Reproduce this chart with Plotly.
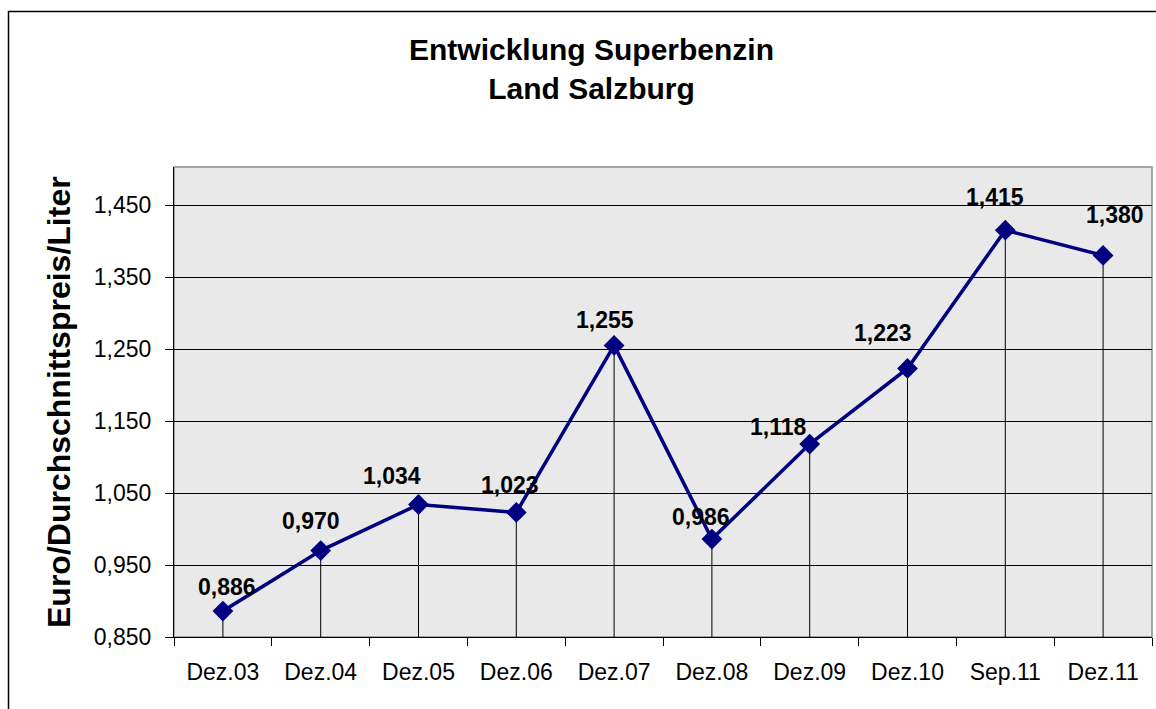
import plotly.graph_objects as go

# ---- data ----
categories = ["Dez.03", "Dez.04", "Dez.05", "Dez.06", "Dez.07",
              "Dez.08", "Dez.09", "Dez.10", "Sep.11", "Dez.11"]
prices = [0.886, 0.970, 1.034, 1.023, 1.255, 0.986, 1.118, 1.223, 1.415, 1.380]
y_ticks = [0.850, 0.950, 1.050, 1.150, 1.250, 1.350, 1.450]

# label placement offsets (pixels) relative to each point
label_dx = [4, -10, -27, -6, -9, -11, -32, -25, -10, 12]
label_dy = [24, 30, 29, 27, 25, 22, 17, 35, 33, 40]

FONT = "Liberation Sans, Arial, sans-serif"
NAVY = "#000080"

def fmt(v):
    return f"{v:.3f}".replace(".", ",")

# plot area geometry (pixels)
W, H = 1156, 709
L, R, T, B = 174, 4, 167, 72
pw, ph = W - L - R, H - T - B

def px_x(p):
    return (p - L) / pw

def px_y(p):
    return (H - B - p) / ph

fig = go.Figure()

# drop lines from each point down to the axis
dx, dy = [], []
for c, v in zip(categories, prices):
    dx += [c, c, None]
    dy += [v, y_ticks[0], None]
fig.add_trace(go.Scatter(x=dx, y=dy, mode="lines",
                         line=dict(color="black", width=1),
                         hoverinfo="skip", showlegend=False))

# main series
fig.add_trace(go.Scatter(x=categories, y=prices, mode="lines+markers",
                         line=dict(color=NAVY, width=3.5),
                         marker=dict(symbol="diamond", size=16, color=NAVY),
                         showlegend=False))

annotations = []
for c, v, ox, oy in zip(categories, prices, label_dx, label_dy):
    annotations.append(dict(x=c, y=v, xref="x", yref="y", text=f"<b>{fmt(v)}</b>",
                            showarrow=False, xshift=ox, yshift=oy,
                            xanchor="center", yanchor="middle",
                            font=dict(family=FONT, size=23, color="black")))

# title
annotations.append(dict(xref="paper", yref="paper", x=px_x(591), y=px_y(69),
                        text="<b>Entwicklung Superbenzin<br>Land Salzburg</b>",
                        showarrow=False, xanchor="center", yanchor="middle",
                        font=dict(family=FONT, size=30, color="black")))
# y-axis title
annotations.append(dict(xref="paper", yref="paper", x=px_x(59), y=0.5,
                        text="<b>Euro/Durchschnittspreis/Liter</b>", textangle=-90,
                        showarrow=False, xanchor="center", yanchor="middle",
                        font=dict(family=FONT, size=32, color="black")))

shapes = [
    # plot-area border (gray top / right)
    dict(type="rect", xref="paper", yref="paper", x0=0, y0=0, x1=1, y1=1,
         line=dict(color="#8c8c8c", width=1.5), layer="below"),
    # outer chart frame
    dict(type="rect", xref="paper", yref="paper",
         x0=px_x(8.5), y0=px_y(720), x1=px_x(1170), y1=px_y(11.5),
         line=dict(color="black", width=1.5), layer="below"),
]

fig.update_layout(
    width=W, height=H,
    margin=dict(l=L, r=R, t=T, b=B, pad=0),
    paper_bgcolor="white",
    plot_bgcolor="#e9e9e9",
    separators=",.",
    font=dict(family=FONT, size=23, color="black"),
    annotations=annotations,
    shapes=shapes,
    xaxis=dict(type="category", range=[-0.5, len(categories) - 0.5],
               tickson="boundaries", ticks="outside", ticklen=8, tickwidth=1,
               tickcolor="black", showline=True, linecolor="black", linewidth=1,
               showgrid=False, zeroline=False, ticklabelstandoff=14,
               tickfont=dict(family=FONT, size=23, color="black")),
    yaxis=dict(range=[y_ticks[0], y_ticks[0] + ph / 720], tickvals=y_ticks,
               ticktext=[fmt(v) for v in y_ticks],
               ticks="outside", ticklen=8, tickwidth=1, tickcolor="black",
               showline=True, linecolor="black", linewidth=1,
               showgrid=True, gridcolor="black", gridwidth=1, zeroline=False,
               ticklabelstandoff=9,
               tickfont=dict(family=FONT, size=23, color="black")),
)

fig.write_html("out.html",
               config={"displayModeBar": False},
               post_script="document.body.style.margin='0';"
                           "document.body.style.overflow='hidden';")
